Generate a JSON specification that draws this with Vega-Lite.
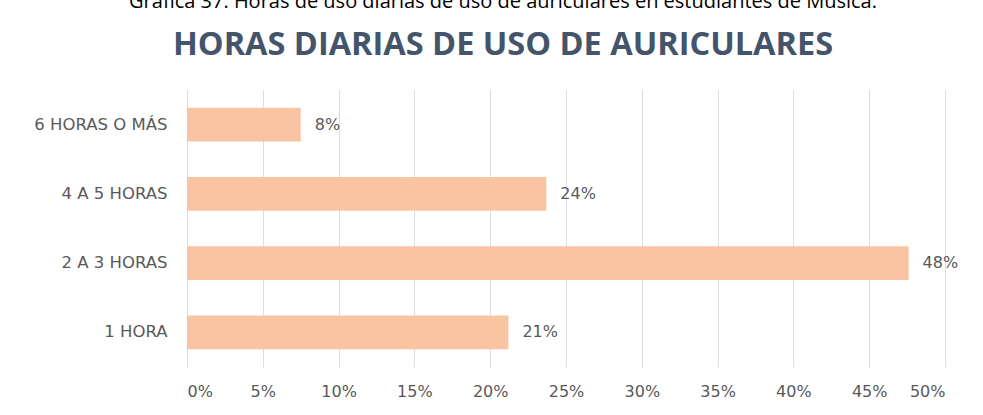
{
  "$schema": "https://vega.github.io/schema/vega-lite/v6.json",
  "autosize": {"type": "none"},
  "width": 758,
  "height": 277,
  "padding": {"left": 187, "top": 90, "right": 38, "bottom": 48},
  "background": "white",
  "title": {
    "text": "Gráfica 37. Horas de uso diarias de uso de auriculares en estudiantes de Música.",
    "subtitle": "HORAS DIARIAS DE USO DE AURICULARES",
    "anchor": "middle",
    "dx": -63,
    "offset": 29,
    "font": "Open Sans",
    "fontSize": 20,
    "fontWeight": "normal",
    "color": "#000000",
    "subtitleFont": "Open Sans",
    "subtitleFontSize": 32.5,
    "subtitleFontWeight": "bold",
    "subtitleColor": "#44546A",
    "subtitlePadding": 17
  },
  "data": {
    "values": [
      {"cat": "6 HORAS O MÁS", "pct": 7.5, "label": "8%"},
      {"cat": "4 A 5 HORAS", "pct": 23.7, "label": "24%"},
      {"cat": "2 A 3 HORAS", "pct": 47.6, "label": "48%"},
      {"cat": "1 HORA", "pct": 21.2, "label": "21%"}
    ]
  },
  "encoding": {
    "y": {
      "field": "cat",
      "type": "nominal",
      "sort": null,
      "scale": {"paddingInner": 0.51, "paddingOuter": 0.255},
      "axis": {
        "title": null,
        "domain": false,
        "ticks": false,
        "labelPadding": 20,
        "labelFont": "DejaVu Sans",
        "labelFontSize": 16.5,
        "labelColor": "#595959"
      }
    },
    "x": {
      "field": "pct",
      "type": "quantitative",
      "scale": {"domain": [0, 50], "nice": false},
      "axis": {
        "title": null,
        "values": [0, 5, 10, 15, 20, 25, 30, 35, 40, 45, 50],
        "labelExpr": "datum.value + '%'",
        "domain": false,
        "ticks": false,
        "grid": true,
        "gridColor": "#D9DEE4",
        "gridWidth": 1,
        "labelPadding": 16,
        "labelFont": "DejaVu Sans",
        "labelFontSize": 16,
        "labelColor": "#595959"
      }
    }
  },
  "layer": [
    {"mark": {"type": "bar", "color": "#F8C4A2"}},
    {
      "mark": {"type": "text", "align": "left", "dx": 14, "font": "DejaVu Sans", "fontSize": 16, "color": "#595959"},
      "encoding": {"text": {"field": "label"}}
    }
  ],
  "config": {"view": {"stroke": null}}
}
